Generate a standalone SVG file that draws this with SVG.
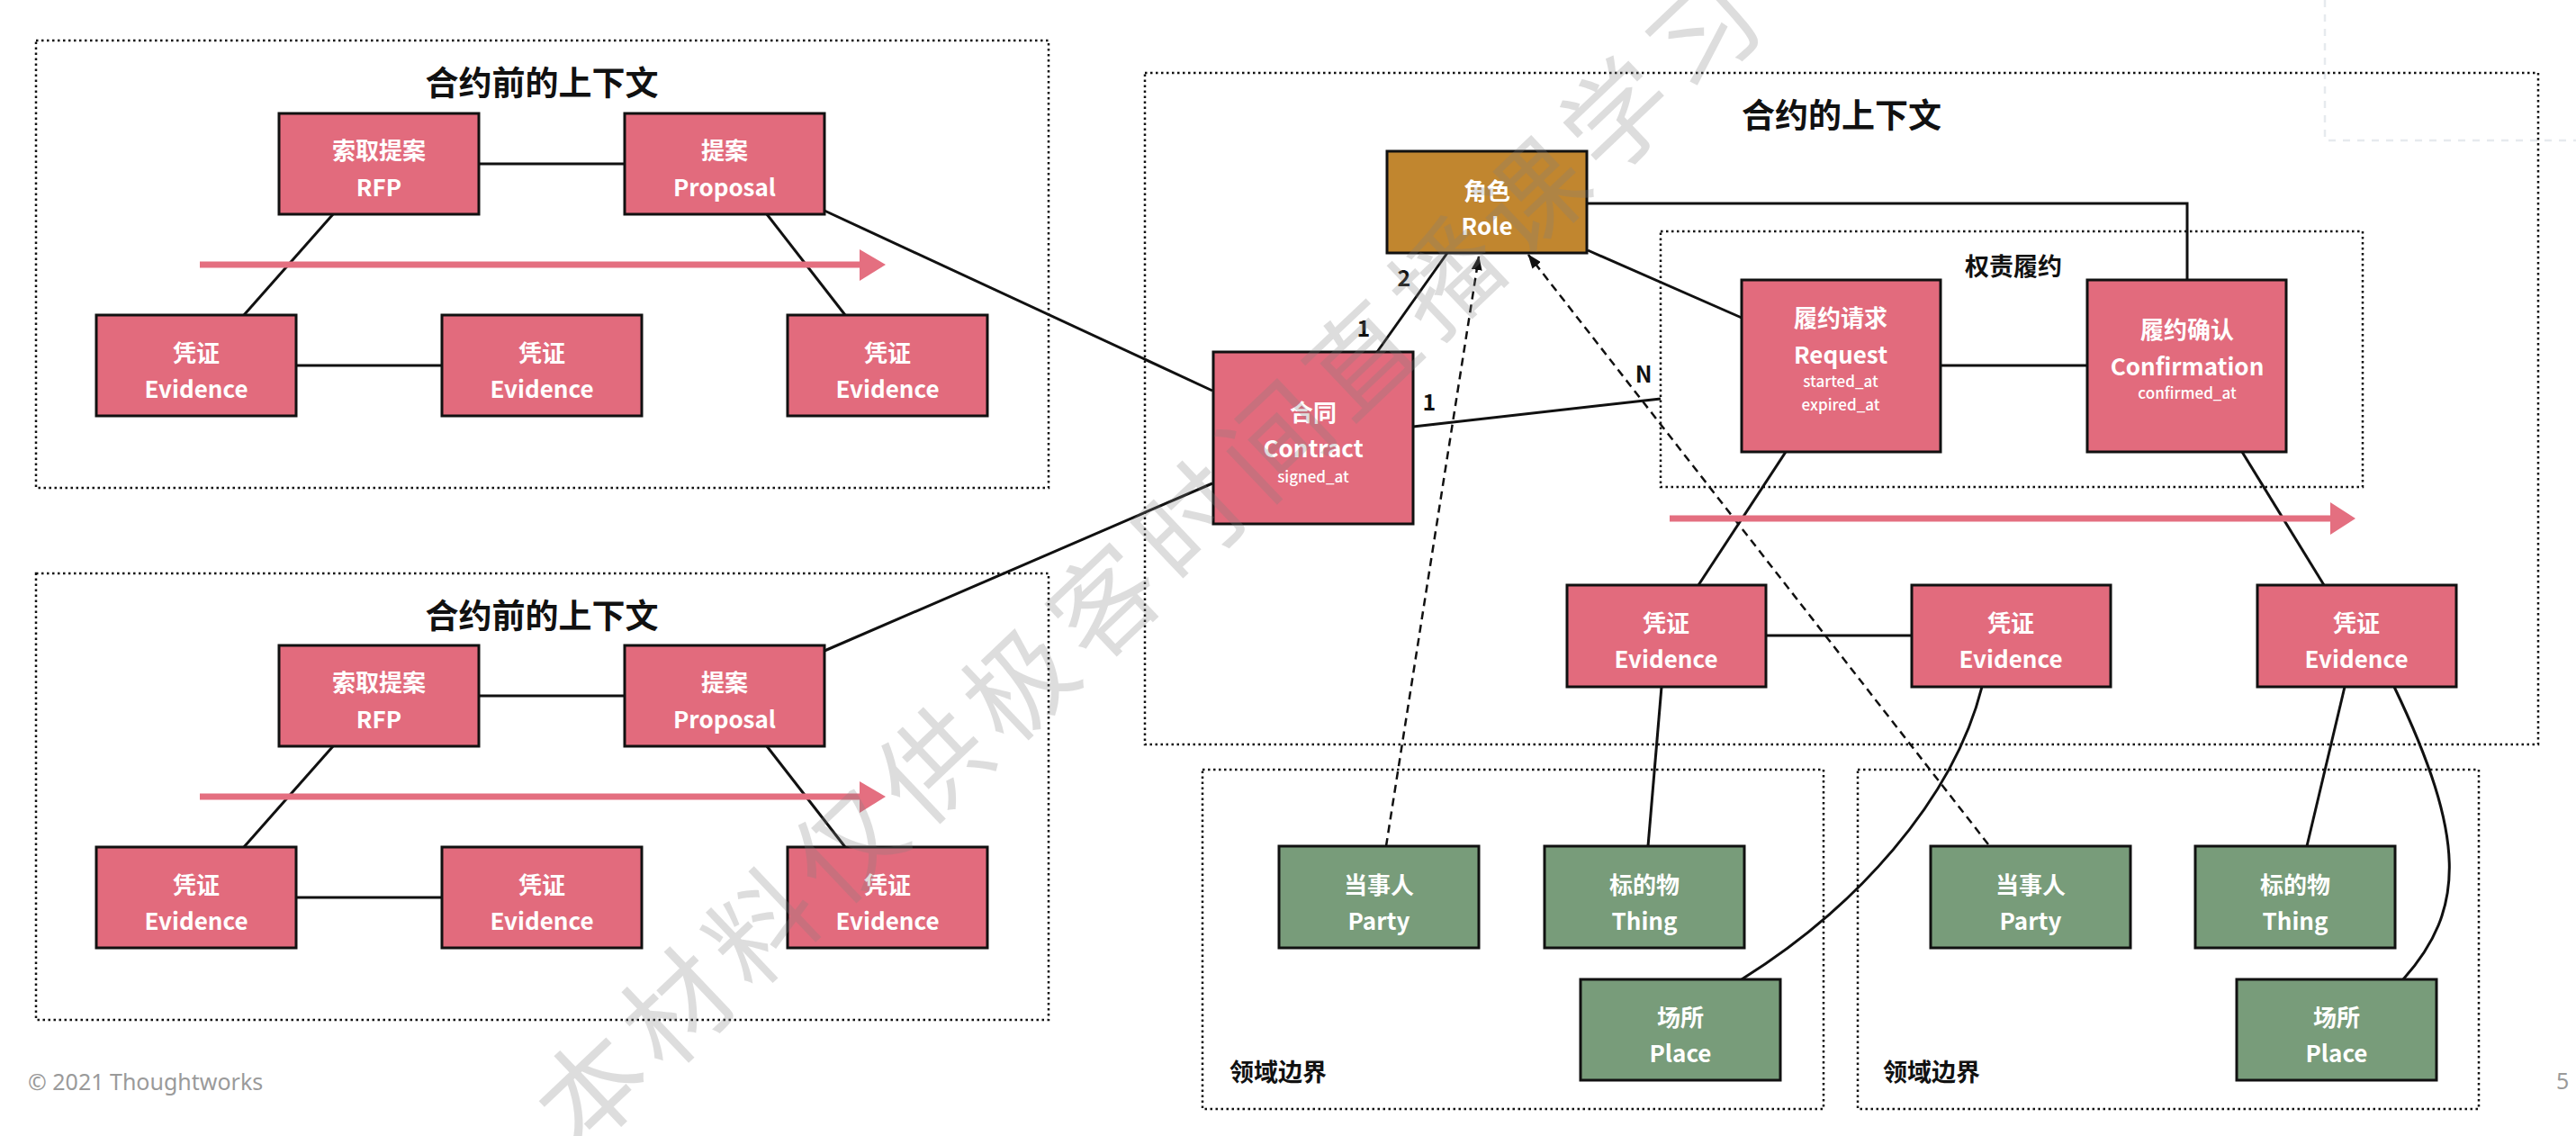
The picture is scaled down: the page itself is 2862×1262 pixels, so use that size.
<svg xmlns="http://www.w3.org/2000/svg" width="2862" height="1262" viewBox="0 0 2862 1262">
<style>
.ctx{fill:none;stroke:#111;stroke-width:2.5;stroke-dasharray:2.5 3.5}
.pk{fill:#E26B7D;stroke:#111;stroke-width:3}
.gd{fill:#C1862F;stroke:#111;stroke-width:3}
.gr{fill:#789C7A;stroke:#111;stroke-width:3}
.t{font-family:"Noto Sans CJK SC","Noto Sans",sans-serif;font-weight:700;fill:#fff;font-size:26px;text-anchor:middle;dominant-baseline:central}
.s{font-size:17px;font-weight:500}
.h{font-family:"Noto Sans CJK SC","Noto Sans",sans-serif;font-weight:700;fill:#111;text-anchor:middle;dominant-baseline:central}
.ln{fill:none;stroke:#111;stroke-width:3}
.dl{fill:none;stroke:#111;stroke-width:2.5;stroke-dasharray:9 6}
.num{font-family:"Noto Sans CJK SC","Noto Sans",sans-serif;font-weight:700;fill:#111;font-size:25px;text-anchor:middle;dominant-baseline:central}
.pa{stroke:#E46F80;stroke-width:7;fill:none}
.ph{fill:#E46F80}
</style>
<defs>
<marker id="ah" viewBox="0 0 16 12" refX="15" refY="6" markerWidth="16" markerHeight="12" markerUnits="userSpaceOnUse" orient="auto">
<path d="M0,0 L16,6 L0,12 Z" fill="#111"/>
</marker>
</defs>
<rect width="2862" height="1262" fill="#fff"/>
<g id="faint-guides" fill="none" stroke="#e6eaee" stroke-width="2.5" stroke-dasharray="8 8">
<path d="M2583,0 V156 H2862"/>
</g>

<g id="ctx-pre-1">
<rect class="ctx" x="40" y="45" width="1125" height="497"/>
<text class="h" x="602" y="90" font-size="37">合约前的上下文</text>
</g>
<g id="ctx-pre-2">
<rect class="ctx" x="40" y="637" width="1125" height="496"/>
<text class="h" x="602" y="682" font-size="37">合约前的上下文</text>
</g>
<g id="ctx-contract">
<rect class="ctx" x="1272" y="81" width="1548" height="746"/>
<text class="h" x="2046" y="126" font-size="37">合约的上下文</text>
</g>
<g id="ctx-fulfil">
<rect class="ctx" x="1845" y="257" width="780" height="284"/>
<text class="h" x="2237" y="294" font-size="27">权责履约</text>
</g>
<g id="ctx-domain-1">
<rect class="ctx" x="1336" y="855" width="690" height="377"/>
<text class="h" x="1420" y="1189" font-size="27">领域边界</text>
</g>
<g id="ctx-domain-2">
<rect class="ctx" x="2064" y="855" width="690" height="377"/>
<text class="h" x="2146" y="1189" font-size="27">领域边界</text>
</g>

<g id="connectors">
<line class="ln" x1="532" y1="182" x2="694" y2="182"/>
<line class="ln" x1="370" y1="238" x2="271" y2="350"/>
<line class="ln" x1="852" y1="238" x2="939" y2="350"/>
<line class="ln" x1="329" y1="406" x2="491" y2="406"/>
<line class="ln" x1="532" y1="773" x2="694" y2="773"/>
<line class="ln" x1="370" y1="829" x2="271" y2="941"/>
<line class="ln" x1="852" y1="829" x2="939" y2="941"/>
<line class="ln" x1="329" y1="997" x2="491" y2="997"/>
<line class="ln" x1="916" y1="234" x2="1347" y2="434"/>
<line class="ln" x1="916" y1="723" x2="1347" y2="537"/>
<line class="ln" x1="1608" y1="281" x2="1530" y2="391"/>
<line class="ln" x1="1570" y1="474" x2="1845" y2="443"/>
<line class="ln" x1="1764" y1="278" x2="1935" y2="353"/>
<path class="ln" d="M1763,226 H2430 V311"/>
<line class="ln" x1="2156" y1="406" x2="2319" y2="406"/>
<line class="ln" x1="1984" y1="502" x2="1887" y2="650"/>
<line class="ln" x1="2491" y1="502" x2="2582" y2="650"/>
<line class="ln" x1="1962" y1="706" x2="2124" y2="706"/>
<line class="ln" x1="1846" y1="763" x2="1831" y2="940"/>
<path class="ln" d="M2202,763 C2170,890 2060,1010 1935,1088"/>
<line class="ln" x1="2605" y1="763" x2="2563" y2="940"/>
<path class="ln" d="M2660,763 C2740,930 2740,1010 2670,1088"/>
<line class="dl" x1="1540" y1="940" x2="1643" y2="285" marker-end="url(#ah)"/>
<line class="dl" x1="2209" y1="938" x2="1698" y2="283" marker-end="url(#ah)"/>
<text class="num" x="1560" y="307">2</text>
<text class="num" x="1515" y="363">1</text>
<text class="num" x="1588" y="445">1</text>
<text class="num" x="1826" y="414">N</text>
<line class="pa" x1="222" y1="294" x2="957" y2="294"/>
<polygon class="ph" points="955,277 984,294 955,312"/>
<line class="pa" x1="222" y1="885" x2="957" y2="885"/>
<polygon class="ph" points="955,868 984,885 955,903"/>
<line class="pa" x1="1855" y1="576" x2="2591" y2="576"/>
<polygon class="ph" points="2589,558 2617,576 2589,594"/>
</g>

<g id="rfp-1"><rect class="pk" x="310" y="126" width="222" height="112"/><text class="t" x="421" y="165">索取提案</text><text class="t" x="421" y="206">RFP</text></g>
<g id="proposal-1"><rect class="pk" x="694" y="126" width="222" height="112"/><text class="t" x="805" y="165">提案</text><text class="t" x="805" y="206">Proposal</text></g>
<g id="evidence-1a"><rect class="pk" x="107" y="350" width="222" height="112"/><text class="t" x="218" y="390">凭证</text><text class="t" x="218" y="430">Evidence</text></g>
<g id="evidence-1b"><rect class="pk" x="491" y="350" width="222" height="112"/><text class="t" x="602" y="390">凭证</text><text class="t" x="602" y="430">Evidence</text></g>
<g id="evidence-1c"><rect class="pk" x="875" y="350" width="222" height="112"/><text class="t" x="986" y="390">凭证</text><text class="t" x="986" y="430">Evidence</text></g>

<g id="rfp-2"><rect class="pk" x="310" y="717" width="222" height="112"/><text class="t" x="421" y="756">索取提案</text><text class="t" x="421" y="797">RFP</text></g>
<g id="proposal-2"><rect class="pk" x="694" y="717" width="222" height="112"/><text class="t" x="805" y="756">提案</text><text class="t" x="805" y="797">Proposal</text></g>
<g id="evidence-2a"><rect class="pk" x="107" y="941" width="222" height="112"/><text class="t" x="218" y="981">凭证</text><text class="t" x="218" y="1021">Evidence</text></g>
<g id="evidence-2b"><rect class="pk" x="491" y="941" width="222" height="112"/><text class="t" x="602" y="981">凭证</text><text class="t" x="602" y="1021">Evidence</text></g>
<g id="evidence-2c"><rect class="pk" x="875" y="941" width="222" height="112"/><text class="t" x="986" y="981">凭证</text><text class="t" x="986" y="1021">Evidence</text></g>

<g id="role"><rect class="gd" x="1541" y="168" width="222" height="113"/><text class="t" x="1652" y="210">角色</text><text class="t" x="1652" y="249">Role</text></g>
<g id="contract"><rect class="pk" x="1348" y="391" width="222" height="191"/><text class="t" x="1459" y="456">合同</text><text class="t" x="1459" y="496">Contract</text><text class="t s" x="1459" y="528">signed_at</text></g>
<g id="request"><rect class="pk" x="1935" y="311" width="221" height="191"/><text class="t" x="2045" y="351">履约请求</text><text class="t" x="2045" y="392">Request</text><text class="t s" x="2045" y="422">started_at</text><text class="t s" x="2045" y="448">expired_at</text></g>
<g id="confirmation"><rect class="pk" x="2319" y="311" width="221" height="191"/><text class="t" x="2430" y="364">履约确认</text><text class="t" x="2430" y="405">Confirmation</text><text class="t s" x="2430" y="435">confirmed_at</text></g>
<g id="evidence-3a"><rect class="pk" x="1741" y="650" width="221" height="113"/><text class="t" x="1851" y="690">凭证</text><text class="t" x="1851" y="730">Evidence</text></g>
<g id="evidence-3b"><rect class="pk" x="2124" y="650" width="221" height="113"/><text class="t" x="2234" y="690">凭证</text><text class="t" x="2234" y="730">Evidence</text></g>
<g id="evidence-3c"><rect class="pk" x="2508" y="650" width="221" height="113"/><text class="t" x="2618" y="690">凭证</text><text class="t" x="2618" y="730">Evidence</text></g>

<g id="party-1"><rect class="gr" x="1421" y="940" width="222" height="113"/><text class="t" x="1532" y="981">当事人</text><text class="t" x="1532" y="1021">Party</text></g>
<g id="thing-1"><rect class="gr" x="1716" y="940" width="222" height="113"/><text class="t" x="1827" y="981">标的物</text><text class="t" x="1827" y="1021">Thing</text></g>
<g id="place-1"><rect class="gr" x="1756" y="1088" width="222" height="112"/><text class="t" x="1867" y="1128">场所</text><text class="t" x="1867" y="1168">Place</text></g>
<g id="party-2"><rect class="gr" x="2145" y="940" width="222" height="113"/><text class="t" x="2256" y="981">当事人</text><text class="t" x="2256" y="1021">Party</text></g>
<g id="thing-2"><rect class="gr" x="2439" y="940" width="222" height="113"/><text class="t" x="2550" y="981">标的物</text><text class="t" x="2550" y="1021">Thing</text></g>
<g id="place-2"><rect class="gr" x="2485" y="1088" width="222" height="112"/><text class="t" x="2596" y="1128">场所</text><text class="t" x="2596" y="1168">Place</text></g>

<g id="footer" font-family="'Noto Sans','Noto Sans CJK SC',sans-serif" fill="#9a9a9a" font-size="25">
<text x="31" y="1211">© 2021 Thoughtworks</text>
<text x="2840" y="1210">5</text>
</g>

<g id="watermark">
<text x="1274" y="614" transform="rotate(-43.5 1274 614)" font-family="'Noto Sans CJK SC',sans-serif" font-size="118" font-weight="400" fill="#808080" opacity="0.26" text-anchor="middle" dominant-baseline="central" letter-spacing="13">本材料仅供极客时间直播课学习</text>
</g>
</svg>
